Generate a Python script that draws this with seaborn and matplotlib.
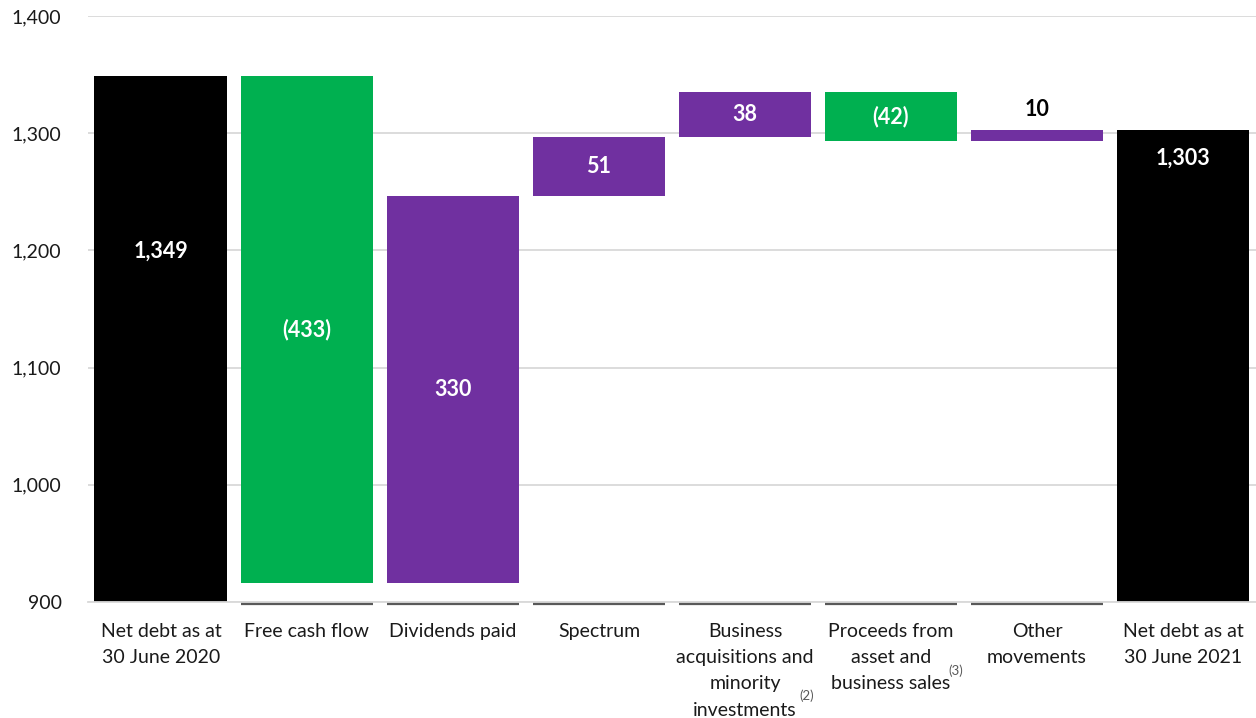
import numpy as np
import pandas as pd
import matplotlib
matplotlib.use("Agg")
import matplotlib.pyplot as plt
import seaborn as sns

# waterfall data (EUR m)
categories = [
    "Net debt as at\n30 June 2020",
    "Free cash flow",
    "Dividends paid",
    "Spectrum",
    "Business\nacquisitions and\nminority\ninvestments",
    "Proceeds from\nasset and\nbusiness sales",
    "Other\nmovements",
    "Net debt as at\n30 June 2021",
]
footnotes = {4: "(2)", 5: "(3)"}
start_value = 1349
changes = [-433, 330, 51, 38, -42, 10]
end_value = 1303
value_labels = ["1,349", "(433)", "330", "51", "38", "(42)", "10", "1,303"]
label_colors = ["white"] * 6 + ["black", "white"]

BLACK = "#000000"
GREEN = "#00B050"
PURPLE = "#7030A0"

# build bar bottoms / heights from the running total
running = [start_value]
for c in changes:
    running.append(running[-1] + c)
bottoms = [900]
heights = [start_value - 900]
for i, c in enumerate(changes):
    lo = min(running[i], running[i + 1])
    bottoms.append(lo)
    heights.append(abs(c))
bottoms.append(900)
heights.append(end_value - 900)
colors = [BLACK] + [GREEN if c < 0 else PURPLE for c in changes] + [BLACK]

df = pd.DataFrame({"cat": categories, "height": heights, "bottom": bottoms})

sns.set_theme(style="white")
plt.rcParams["font.family"] = ["Lato", "DejaVu Sans"]

fig = plt.figure(figsize=(12.56, 7.18), dpi=100)
ax = fig.add_axes([0.070, 0.1616, 0.930, 0.8161])

sns.barplot(data=df, x="cat", y="height", order=categories,
            bottom=df["bottom"].to_numpy(), width=0.91, color=BLACK,
            saturation=1, ax=ax, zorder=2)
for patch, col in zip(ax.patches, colors):
    patch.set_facecolor(col)
    patch.set_edgecolor("none")

ax.set_ylim(900, 1400)
ax.set_xlim(-0.5, len(categories) - 0.5)
ax.set_yticks(np.arange(900, 1401, 100))
ax.set_yticklabels([f"{v:,}" for v in range(900, 1401, 100)])
ax.yaxis.grid(True, color="#D9D9D9", linewidth=1.3, zorder=0)
ax.set_axisbelow(True)
for s in ["left", "right", "top"]:
    ax.spines[s].set_visible(False)
ax.spines["bottom"].set_color("#D9D9D9")
ax.spines["bottom"].set_linewidth(1.3)
ax.tick_params(axis="y", length=0, pad=19, labelsize=14, labelcolor="#1a1a1a")
ax.tick_params(axis="x", length=0, pad=15, labelsize=14, labelcolor="#1a1a1a")
for lab in ax.get_xticklabels():
    lab.set_linespacing(1.66)
    lab.set_verticalalignment("top")
ax.set_xlabel("")
ax.set_ylabel("")

# footnote markers next to the last line of two category labels
ax.text(4 + 0.42, -0.160, footnotes[4], transform=ax.get_xaxis_transform(),
        ha="center", va="center", fontsize=9.5, color="#595959")
ax.text(5 + 0.445, -0.117, footnotes[5], transform=ax.get_xaxis_transform(),
        ha="center", va="center", fontsize=9.5, color="#595959")

# dark baseline pieces under floating bars
for i in range(1, len(categories) - 1):
    ax.hlines(898.3, i - 0.455, i + 0.455, color="#595959", linewidth=1.6,
              clip_on=False, zorder=3)

# value labels
label_y = [b + h / 2 for b, h in zip(bottoms, heights)]
label_y[0] = 1199
label_y[-1] = 1279
label_y[6] = running[-1] + 17
for i, (txt, y, col) in enumerate(zip(value_labels, label_y, label_colors)):
    ax.text(i, y, txt, ha="center", va="center", color=col,
            fontsize=15.5, fontweight="bold", zorder=4)

fig.savefig("out.png", dpi=100)
